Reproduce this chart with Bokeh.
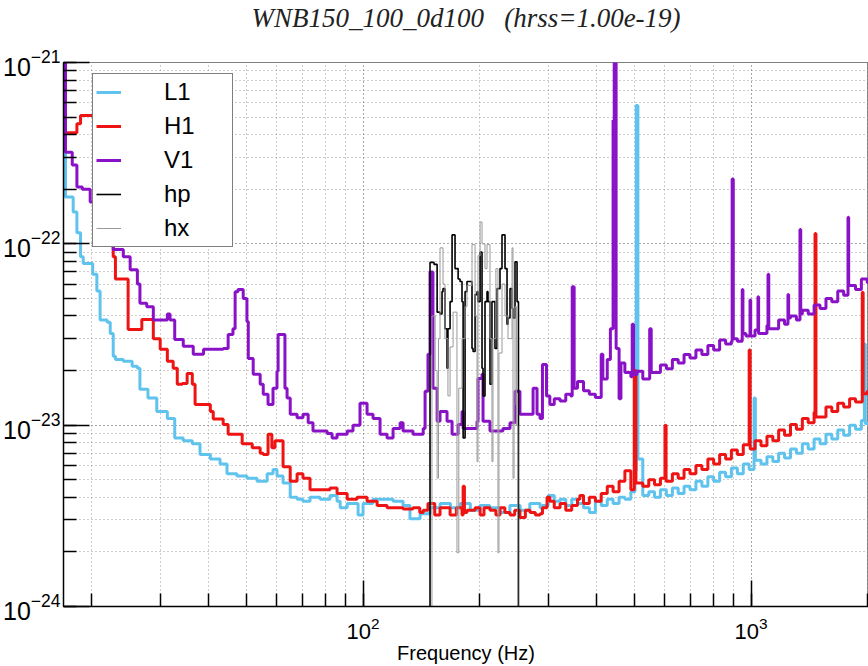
from bokeh.plotting import figure
from bokeh.models import Range1d, Legend, LegendItem, Title
from bokeh.embed import file_html
from bokeh.resources import INLINE

# ---------------- data (frequency in Hz, amplitude spectral density in 1/sqrt(Hz)) ----------------
L1_freq = [16.9, 17.1, 17.9, 18.3, 18.7, 19.0, 20.1, 20.6, 21.0, 21.9, 22.3, 22.7, 23.0, 24.1, 25.4,
           26.2, 26.6, 27.9, 29.4, 31.3, 32.7, 34.4, 36.3, 38.0, 40.4, 42.8, 44.6, 47.3, 50.2, 53.3,
           56.6, 58.6, 60.0, 62.2, 64.9, 67.6, 70.0, 73.0, 77.5, 82.2, 85.7, 87.3, 91.0, 94.2, 97.1,
           100, 106, 112.6, 119.5, 126.8, 132.1, 140.3, 148.8, 157.9, 168, 178, 189, 200, 212, 225,
           239, 254, 269, 286,
           290, 300, 311, 322, 333, 345, 357, 370, 383, 397, 411, 426, 441, 457, 473, 490, 502, 506,
           511, 526, 545, 564, 584, 605, 627, 649, 672, 696, 721, 747, 774, 801, 830, 860, 890, 922,
           955, 989, 1018, 1026, 1061, 1099, 1138, 1178, 1220, 1264, 1309, 1356, 1404, 1454, 1506,
           1560, 1615, 1673, 1733, 1795, 1859, 1925, 1960, 1970, 2010]
L1_asd = [3.2e-22, 1.81e-22, 1.5e-22, 1.15e-22, 8.5e-23, 7.8e-23, 6.8e-23, 5.5e-23, 3.8e-23, 3.7e-23,
          3.2e-23, 2.4e-23, 2.3e-23, 2.25e-23, 2.11e-23, 2.06e-23, 1.58e-23, 1.41e-23, 1.19e-23,
          1.09e-23, 8.5e-24, 8.2e-24, 7.9e-24, 6.9e-24, 6.5e-24, 6.1e-24, 5.4e-24, 5.25e-24, 5.1e-24,
          4.9e-24, 5.4e-24, 5.7e-24, 5.25e-24, 4.8e-24, 4.0e-24, 3.9e-24, 3.8e-24, 4.0e-24, 3.9e-24,
          4.1e-24, 3.8e-24, 3.5e-24, 3.7e-24, 3.7e-24, 3.2e-24, 3.7e-24, 3.9e-24, 3.9e-24, 3.8e-24,
          3.6e-24, 3.05e-24, 3.25e-24, 3.5e-24, 3.7e-24, 3.5e-24, 3.7e-24, 3.4e-24, 3.6e-24, 3.5e-24,
          3.3e-24, 3.6e-24, 3.4e-24, 3.7e-24, 3.5e-24,
          3.6e-24, 4.1e-24, 3.8e-24, 3.9e-24, 3.6e-24, 3.9e-24, 3.7e-24, 3.5e-24, 3.3e-24, 3.8e-24,
          3.6e-24, 3.9e-24, 3.7e-24, 4.0e-24, 3.9e-24, 4.3e-24, 5.6e-24, 5.8e-22, 6.5e-24, 4.1e-24,
          4.3e-24, 4.0e-24, 4.4e-24, 4.1e-24, 4.5e-24, 4.2e-24, 4.6e-24, 4.4e-24, 4.9e-24, 4.6e-24,
          5.2e-24, 4.9e-24, 5.5e-24, 5.2e-24, 5.8e-24, 5.4e-24, 6.1e-24, 5.7e-24, 1.41e-23, 6.4e-24,
          6.1e-24, 6.7e-24, 6.3e-24, 7.0e-24, 6.6e-24, 7.4e-24, 7.0e-24, 7.9e-24, 7.4e-24, 8.4e-24,
          7.9e-24, 8.9e-24, 8.4e-24, 9.4e-24, 8.8e-24, 1.0e-23, 9.5e-24, 1.06e-23, 2.8e-23, 1.02e-23,
          1.02e-23]

H1_freq = [16.9, 17.1, 18.3, 18.7, 20.5, 21.5, 22.3, 22.7, 23.0, 24.0, 24.8, 25.8, 26.9, 28.8, 30.0,
           31.3, 32.4, 33.2, 34.2, 35.2, 36.3, 36.9, 39.2, 40.4, 41.1, 43.6, 44.9, 47.6, 48.8, 51.8,
           54.3, 55.3, 56.9, 58.2, 59.3, 61.1, 62.2, 64.9, 67.6, 70.0, 73.0, 77.5, 82.2, 85.7, 91.0,
           96.5, 102.4, 108.7, 115.3, 122.3, 126.8, 134.5, 140, 142.9, 147.0, 153, 157.9, 167.6, 174,
           179.9, 181.1, 182.5, 185.3, 194.4, 200.3, 205, 212.4, 220, 225.4, 232, 239.2, 246, 253.7,
           262, 269.4, 278, 285.8,
           290, 298, 303, 311, 322, 333, 345, 357, 362, 370, 383, 397, 411, 426, 441, 457, 473, 490,
           500, 505, 526, 545, 564, 584, 600, 604, 627, 649, 672, 696, 721, 747, 774, 801, 830, 860,
           890, 922, 955, 989, 995, 1024, 1061, 1099, 1138, 1178, 1220, 1264, 1309, 1356, 1404, 1454,
           1462, 1470, 1506, 1560, 1615, 1673, 1733, 1795, 1859, 1935, 1945, 1994, 2010]
H1_asd = [6.5e-22, 4.1e-22, 4.6e-22, 5.1e-22, 3.5e-22, 2.0e-22, 1.3e-22, 8.5e-23, 6.4e-23, 6.4e-23,
          3.37e-23, 3.37e-23, 3.82e-23, 3.0e-23, 2.62e-23, 2.25e-23, 2.06e-23, 1.68e-23, 1.70e-23,
          1.93e-23, 1.68e-23, 1.30e-23, 1.30e-23, 1.19e-23, 1.08e-23, 1.01e-23, 8.9e-24, 8.9e-24,
          7.9e-24, 7.5e-24, 7.0e-24, 6.9e-24, 8.9e-24, 7.5e-24, 8.2e-24, 8.2e-24, 5.9e-24, 4.9e-24,
          5.4e-24, 5.1e-24, 4.4e-24, 4.4e-24, 4.5e-24, 4.2e-24, 3.9e-24, 4.0e-24, 3.8e-24, 3.6e-24,
          3.5e-24, 3.5e-24, 3.45e-24, 3.5e-24, 3.3e-24, 3.4e-24, 3.7e-24, 3.2e-24, 3.5e-24, 3.2e-24,
          3.5e-24, 3.2e-24, 4.6e-24, 3.3e-24, 3.4e-24, 3.5e-24, 3.2e-24, 3.5e-24, 3.4e-24, 3.2e-24,
          3.5e-24, 3.3e-24, 3.2e-24, 3.4e-24, 3.1e-24, 3.4e-24, 3.3e-24, 3.2e-24, 3.25e-24,
          3.5e-24, 4.0e-24, 3.8e-24, 3.5e-24, 3.7e-24, 3.4e-24, 3.6e-24, 3.9e-24, 4.1e-24, 3.7e-24,
          4.0e-24, 3.8e-24, 4.2e-24, 4.6e-24, 4.3e-24, 4.9e-24, 5.6e-24, 4.4e-24, 2.0e-23, 4.8e-24,
          4.6e-24, 5.0e-24, 4.7e-24, 5.1e-24, 1.0e-23, 4.9e-24, 5.4e-24, 5.1e-24, 5.7e-24, 5.4e-24,
          6.0e-24, 5.7e-24, 6.5e-24, 6.1e-24, 6.9e-24, 6.5e-24, 7.3e-24, 6.9e-24, 7.8e-24, 2.6e-23,
          7.4e-24, 8.2e-24, 7.7e-24, 8.7e-24, 8.2e-24, 9.4e-24, 8.8e-24, 1.01e-23, 9.5e-24, 1.09e-23,
          1.03e-23, 1.18e-23, 1.14e-22, 1.11e-23, 1.11e-23, 1.26e-23, 1.19e-23, 1.32e-23, 1.26e-23,
          1.40e-23, 1.34e-23, 5.4e-23, 1.49e-23, 1.54e-23, 1.54e-23]

V1_freq = [16.9, 17.1, 17.8, 18.3, 18.9, 19.8, 20.6, 21.5, 22.3, 22.7, 24.1, 25.1, 26.2, 26.6, 27.7,
           28.8, 30.0, 31.3, 31.8, 32.7, 34.4, 36.5, 38.8, 42.1, 43.6, 44.9, 46.2, 46.8, 47.6, 49.1,
           50.2, 50.6, 52.1, 54.3, 55.3, 56.9, 58.6, 60.0, 60.4, 61.8, 62.9, 63.7, 64.9, 67.6, 70.0,
           72.2, 74.3, 77.5, 80.8, 83.2, 85.7, 91.0, 94.2, 98.2, 100, 102.4, 106.1, 110.6, 115.3,
           119.5, 124.6, 126.8, 134.5, 142.9, 144.5, 147.0, 148.8, 151.4, 155.2, 157.9, 164.6, 169.6,
           175.8, 179.9, 181.1, 188.7, 196.7, 197.8, 202.6, 203.8, 212.4, 221.4, 229.4, 239.2, 246.4,
           253.7, 264.8, 274.3, 280.8, 285.8,
           290, 297, 303, 311, 322, 333, 343, 346, 350, 357, 370, 383, 397, 411, 415, 426, 434, 441,
           444, 449, 457, 462, 473, 490, 494, 498, 508, 526, 548, 553, 564, 584, 605, 627, 649, 672,
           696, 721, 747, 774, 801, 830, 860, 890, 894, 900, 922, 949, 953, 970, 994, 998, 1024,
           1042, 1046, 1061, 1099, 1106, 1111, 1138, 1178, 1220, 1245, 1250, 1264, 1309, 1337, 1343,
           1356, 1404, 1454, 1506, 1560, 1615, 1673, 1733, 1778, 1785, 1795, 1859, 1925, 1994, 2010]
V1_asd = [1.3e-21, 3.2e-22, 2.72e-22, 2.06e-22, 2.0e-22, 1.7e-22, 1.45e-22, 1.2e-22, 1.0e-22, 9.3e-23,
          8.5e-23, 7.2e-23, 6.0e-23, 4.7e-23, 4.5e-23, 3.8e-23, 3.8e-23, 4.1e-23, 3.8e-23, 2.97e-23,
          2.72e-23, 2.46e-23, 2.62e-23, 2.62e-23, 2.65e-23, 3.16e-23, 3.4e-23, 5.45e-23, 5.6e-23,
          4.99e-23, 3.73e-23, 2.33e-23, 1.91e-23, 1.68e-23, 1.48e-23, 1.30e-23, 1.6e-23, 1.98e-23,
          3.16e-23, 3.16e-23, 1.6e-23, 1.41e-23, 1.15e-23, 1.1e-23, 1.15e-23, 1.03e-23, 9.3e-24,
          9.3e-24, 9.0e-24, 8.5e-24, 8.9e-24, 9.3e-24, 1.0e-23, 1.32e-23, 1.32e-23, 1.15e-23,
          1.09e-23, 8.9e-24, 8.5e-24, 9.6e-24, 1.03e-23, 9.3e-24, 8.9e-24, 9.6e-24, 1.54e-23,
          2.46e-23, 7.0e-23, 1.6e-23, 1.05e-23, 1.19e-23, 1.05e-23, 8.9e-24, 1.01e-23, 1.19e-23,
          9.6e-24, 9.6e-24, 1.05e-23, 1.81e-23, 1.91e-23, 1.05e-23, 9.3e-24, 9.3e-24, 9.6e-24,
          1.03e-23, 1.54e-23, 1.15e-23, 1.15e-23, 1.6e-23, 1.15e-23, 1.09e-23,
          2.16e-23, 1.45e-23, 1.3e-23, 1.4e-23, 1.36e-23, 1.48e-23, 1.45e-23, 5.8e-23, 1.6e-23,
          1.74e-23, 1.55e-23, 1.48e-23, 1.42e-23, 2.46e-23, 1.8e-23, 2.3e-23, 3.4e-23, 4.8e-22,
          1.3e-21, 2.65e-23, 1.4e-23, 2.2e-23, 1.95e-23, 1.85e-23, 3.6e-23, 1.9e-23, 1.98e-23,
          1.8e-23, 3.4e-23, 1.95e-23, 1.95e-23, 2.15e-23, 2.05e-23, 2.3e-23, 2.2e-23, 2.45e-23,
          2.35e-23, 2.6e-23, 2.45e-23, 2.75e-23, 2.6e-23, 2.95e-23, 2.8e-23, 2.9e-23, 2.28e-22,
          3.0e-23, 2.9e-23, 5.6e-23, 3.2e-23, 3.1e-23, 4.9e-23, 3.1e-23, 3.35e-23, 5.1e-23, 3.2e-23,
          3.2e-23, 3.55e-23, 6.8e-23, 3.4e-23, 3.4e-23, 3.8e-23, 3.6e-23, 5.25e-23, 3.9e-23, 4.0e-23,
          3.8e-23, 1.2e-22, 4.1e-23, 4.3e-23, 4.1e-23, 4.6e-23, 4.4e-23, 5.0e-23, 4.8e-23, 5.5e-23,
          5.2e-23, 1.4e-22, 5.9e-23, 5.9e-23, 5.6e-23, 6.4e-23, 6.1e-23, 6.1e-23]

hp_freq = [147.0, 148.8, 152.4, 155.2, 157.9, 159.8, 160.7, 162.6, 164.6, 165.5, 167.6, 169.6, 172.6,
           175.8, 177.8, 179.9, 181.1, 183.2, 185.3, 190.9, 192.1, 194.4, 196.7, 197.8, 200.3, 202.6,
           203.8, 206.2, 208.7, 209.9, 212.4, 214.9, 218.8, 221.4, 225.4, 228.1, 232.2, 235.0, 236.4,
           239.2, 242.1, 243.5, 246.4, 249.4, 251.5, 260]
hp_asd = [1e-27, 7.9e-23, 7.7e-23, 4.2e-23, 4.1e-23, 5.45e-23, 5.66e-23, 3.4e-23, 2.06e-23, 3.4e-23,
          4.8e-23, 1.12e-22, 7.3e-23, 6.4e-23, 6.2e-23, 4.8e-23, 8.5e-24, 5.45e-23, 6.2e-23, 2.65e-23,
          2.55e-23, 5.25e-23, 5.45e-23, 4.8e-23, 9.0e-23, 2.06e-23, 1.45e-23, 4.8e-23, 5.45e-23,
          4.8e-23, 1.68e-23, 4.8e-23, 2.65e-23, 5.66e-23, 7.3e-23, 1.12e-22, 7.3e-23, 3.6e-23,
          3.9e-23, 5.66e-23, 4.4e-23, 3.9e-23, 7.96e-23, 4.8e-23, 1e-27, 1e-27]

hx_freq = [147.0, 150.5, 153.4, 155.2, 156.5, 157.9, 160.7, 162.6, 165.5, 167.6, 170.6, 174.6, 176.5,
           179.9, 183.2, 185.3, 190.9, 194.4, 196.7, 197.8, 200.3, 202.6, 206.2, 208.7, 212.4, 214.9,
           216.2, 220.0, 222.7, 224.0, 228.1, 232.2, 236.4, 242.1, 243.5, 245.0, 246.4, 248.5, 250.5,
           260]
hx_asd = [1e-27, 4.0e-23, 2.0e-23, 5.1e-24, 3.0e-23, 9.5e-23, 6.0e-23, 3.0e-23, 1.45e-23, 2.7e-23,
          4.2e-23, 1.98e-24, 1.6e-23, 3.0e-23, 4.5e-23, 5.9e-23, 9.9e-23, 4.0e-23, 6.3e-24, 8.6e-23,
          1.32e-22, 1.0e-22, 7.3e-23, 9.9e-23, 3.0e-23, 6.3e-24, 3.0e-23, 7.3e-23, 1.98e-24, 2.5e-23,
          6.0e-23, 4.0e-23, 3.0e-23, 9.5e-23, 5.1e-24, 1.3e-23, 4.5e-23, 1.0e-23, 1e-27, 1e-27]

series_labels = ["L1", "H1", "V1", "hp", "hx"]
title_text = "WNB150_100_0d100\u00a0\u00a0\u00a0(hrss=1.00e-19)"
x_label = "Frequency (Hz)"

# ---------------- figure ----------------
p = figure(width=868, height=666, x_axis_type="log", y_axis_type="log",
           x_range=Range1d(16.9, 2008), y_range=Range1d(1e-24, 1e-21),
           output_backend="svg", toolbar_location=None,
           min_border_left=63, min_border_right=0, min_border_top=60, min_border_bottom=0)

p.add_layout(Title(text=title_text + "\n\u00a0", align="center", text_font="Liberation Serif",
                   text_font_style="italic", text_font_size="27px", text_color="#222222",
                   text_line_height=1.0, standoff=0), "above")

p.background_fill_color = "white"
p.border_fill_color = "white"
p.outline_line_color = "black"
p.outline_line_dash = "1 1"
p.outline_line_width = 1

for g in (p.xgrid[0], p.ygrid[0]):
    g.grid_line_color = "#9a9a9a"
    g.grid_line_dash = "1 3"
    g.grid_line_width = 1
    g.minor_grid_line_color = "#9a9a9a"
    g.minor_grid_line_dash = "1 3"
    g.minor_grid_line_width = 1

for ax in (p.xaxis[0], p.yaxis[0]):
    ax.axis_line_color = "black"
    ax.axis_line_width = 1.5
    ax.major_tick_in = 26
    ax.major_tick_out = 0
    ax.minor_tick_in = 13
    ax.minor_tick_out = 0
    ax.major_tick_line_color = "black"
    ax.minor_tick_line_color = "black"
    ax.major_tick_line_width = 1.5
    ax.minor_tick_line_width = 1.5
    ax.major_label_text_font = "Liberation Sans"
    ax.major_label_text_color = "black"

p.yaxis[0].major_label_text_font_size = "25px"
p.xaxis[0].major_label_text_font_size = "22px"
p.yaxis[0].major_label_standoff = 3
p.xaxis[0].major_label_standoff = 10
p.xaxis[0].axis_label = x_label
p.xaxis[0].axis_label_text_font = "Liberation Sans"
p.xaxis[0].axis_label_text_font_style = "normal"
p.xaxis[0].axis_label_text_font_size = "20px"
p.xaxis[0].axis_label_text_color = "black"
p.xaxis[0].axis_label_standoff = 0

r_l1 = p.step(L1_freq, L1_asd, mode="after", line_color="#5fc3ee", line_width=3)
r_h1 = p.step(H1_freq, H1_asd, mode="after", line_color="#ee1414", line_width=3)
r_v1 = p.step(V1_freq, V1_asd, mode="after", line_color="#8a12c6", line_width=3)
r_hp = p.step(hp_freq, hp_asd, mode="after", line_color="black", line_width=1.6)
r_hx = p.step(hx_freq, hx_asd, mode="after", line_color="#9a9a9a", line_width=1)

legend = Legend(items=[LegendItem(label=lab, renderers=[r]) for lab, r in
                       zip(series_labels, [r_l1, r_h1, r_v1, r_hp, r_hx])],
                location=(29, 359), orientation="vertical")
legend.border_line_color = "black"
legend.border_line_width = 1.5
legend.background_fill_color = "white"
legend.background_fill_alpha = 1.0
legend.label_text_font = "Liberation Sans"
legend.label_text_font_size = "24px"
legend.label_text_color = "black"
legend.glyph_width = 25
legend.glyph_height = 30
legend.label_height = 30
legend.label_standoff = 43
legend.label_width = 65
legend.spacing = 4
legend.padding = 3
legend.margin = 0
p.add_layout(legend)

open("out.html", "w").write(file_html(p, INLINE))
